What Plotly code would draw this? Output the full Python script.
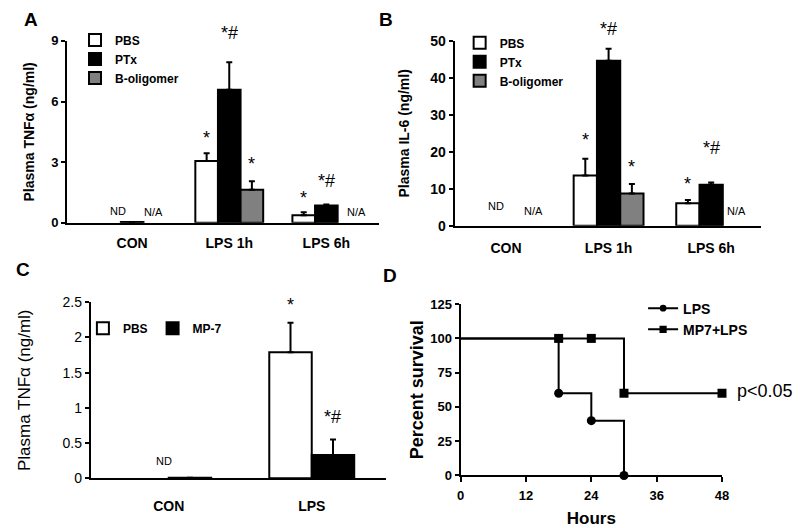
import plotly.graph_objects as go

# ---------------- data ----------------
cats_ab = ["CON", "LPS 1h", "LPS 6h"]
tnf_pbs = [None, 3.06, 0.38]
tnf_pbs_err = [0.0, 0.38, 0.14]
tnf_ptx = [0.04, 6.59, 0.86]
tnf_ptx_err = [0.0, 1.35, 0.05]
tnf_bolig = [None, 1.64, None]
tnf_bolig_err = [0.0, 0.42, 0.0]

il6_pbs = [None, 13.6, 6.1]
il6_pbs_err = [0.0, 4.5, 0.9]
il6_ptx = [None, 44.6, 11.1]
il6_ptx_err = [0.0, 3.3, 0.6]
il6_bolig = [None, 8.7, None]
il6_bolig_err = [0.0, 2.6, 0.0]

cats_c = ["CON", "LPS"]
mp_pbs = [None, 1.79]
mp_pbs_err = [0.0, 0.42]
mp_mp7 = [0.01, 0.33]
mp_mp7_err = [0.0, 0.22]

hours_lps = [0, 18, 24, 30]
surv_lps = [100, 60, 40, 0]
hours_mp7 = [0, 18, 24, 30, 48]
surv_mp7 = [100, 100, 100, 60, 60]

# significance marks (per group index) and their gap above the error bar (px)
sig_a = {"PBS": ["", "*", "*"], "PTx": ["", "*#", "*#"], "B": ["", "*", ""]}
gap_a = {"PBS": [0, 15, 14], "PTx": [0, 29, 23], "B": [0, 17, 0]}
sig_b = {"PBS": ["", "*", "*"], "PTx": ["", "*#", "*#"], "B": ["", "*", ""]}
gap_b = {"PBS": [0, 19, 16], "PTx": [0, 20, 35], "B": [0, 17, 0]}
sig_c = {"PBS": ["", "*"], "MP7": ["", "*#"]}
gap_c = {"PBS": [0, 18], "MP7": [0, 23]}

FONT = "Liberation Sans, Arial, sans-serif"
BLACK = "#000000"
GRAY = "#808080"

fig = go.Figure()

def add_bar(name, x, y, err, color, width, offset, xa, ya, legend, showleg=True):
    fig.add_trace(go.Bar(
        name=name, x=x, y=y, width=width, offset=offset,
        marker=dict(color=color, line=dict(color=BLACK, width=2)),
        error_y=dict(type="data", array=err, arrayminus=[0]*len(err), symmetric=False,
                     color=BLACK, thickness=2, width=3),
        xaxis=xa, yaxis=ya, legend=legend, showlegend=showleg,
    ))

# Panel A
wa = 0.233
add_bar("PBS", cats_ab, tnf_pbs, tnf_pbs_err, "white", wa, -1.5*wa, "x", "y", "legend")
add_bar("PTx", cats_ab, tnf_ptx, tnf_ptx_err, BLACK, wa, -0.5*wa, "x", "y", "legend")
add_bar("B-oligomer", cats_ab, tnf_bolig, tnf_bolig_err, GRAY, wa, 0.5*wa, "x", "y", "legend")

# Panel B
wb = 0.227
add_bar("PBS", cats_ab, il6_pbs, il6_pbs_err, "white", wb, -1.5*wb, "x2", "y2", "legend2")
add_bar("PTx", cats_ab, il6_ptx, il6_ptx_err, BLACK, wb, -0.5*wb, "x2", "y2", "legend2")
add_bar("B-oligomer", cats_ab, il6_bolig, il6_bolig_err, GRAY, wb, 0.5*wb, "x2", "y2", "legend2")

# Panel C
wc = 0.297
add_bar("PBS", cats_c, mp_pbs, mp_pbs_err, "white", wc, -wc, "x3", "y3", "legend3")
add_bar("MP-7", cats_c, mp_mp7, mp_mp7_err, BLACK, wc, 0, "x3", "y3", "legend3")

# Panel D
fig.add_trace(go.Scatter(
    name="LPS", x=hours_lps, y=surv_lps, mode="lines+markers", line_shape="hv",
    line=dict(color=BLACK, width=2),
    marker=dict(symbol="circle", size=[0] + [9]*(len(hours_lps)-1), color=BLACK,
                opacity=1, line=dict(width=0, color=BLACK)),
    xaxis="x4", yaxis="y4", legend="legend4", cliponaxis=False,
))
fig.add_trace(go.Scatter(
    name="MP7+LPS", x=hours_mp7, y=surv_mp7, mode="lines+markers", line_shape="hv",
    line=dict(color=BLACK, width=2),
    marker=dict(symbol="square", size=[0] + [9]*(len(hours_mp7)-1), color=BLACK,
                opacity=1, line=dict(width=0, color=BLACK)),
    xaxis="x4", yaxis="y4", legend="legend4", cliponaxis=False,
))

ann = []

def sig_annots(vals_list, errs_list, offsets, width, marks_list, gaps_list, xref, yref):
    for vals, errs, off, marks, gaps in zip(vals_list, errs_list, offsets, marks_list, gaps_list):
        for i, (v, e, m, g) in enumerate(zip(vals, errs, marks, gaps)):
            if not m or v is None:
                continue
            ann.append(dict(
                x=i + off + width/2, y=v + e, xref=xref, yref=yref,
                text=m, showarrow=False, yanchor="middle", xanchor="center",
                yshift=g,
                font=dict(family=FONT, size=18, color=BLACK),
            ))

sig_annots([tnf_pbs, tnf_ptx, tnf_bolig], [tnf_pbs_err, tnf_ptx_err, tnf_bolig_err],
           [-1.5*wa, -0.5*wa, 0.5*wa], wa, [sig_a["PBS"], sig_a["PTx"], sig_a["B"]],
           [gap_a["PBS"], gap_a["PTx"], gap_a["B"]], "x", "y")
sig_annots([il6_pbs, il6_ptx, il6_bolig], [il6_pbs_err, il6_ptx_err, il6_bolig_err],
           [-1.5*wb, -0.5*wb, 0.5*wb], wb, [sig_b["PBS"], sig_b["PTx"], sig_b["B"]],
           [gap_b["PBS"], gap_b["PTx"], gap_b["B"]], "x2", "y2")
sig_annots([mp_pbs, mp_mp7], [mp_pbs_err, mp_mp7_err],
           [-wc, 0], wc, [sig_c["PBS"], sig_c["MP7"]], [gap_c["PBS"], gap_c["MP7"]], "x3", "y3")

def small(text, x, y, xref, yref, ys):
    ann.append(dict(x=x, y=y, xref=xref, yref=yref, text=text, showarrow=False,
                    yanchor="bottom", xanchor="center", yshift=ys,
                    font=dict(family=FONT, size=11, color=BLACK)))

small("ND", -0.15, 0, "x", "y", 4)
small("N/A", 0.22, 0, "x", "y", 3)
small("N/A", 2.31, 0, "x", "y", 3)
small("ND", -0.1, 0, "x2", "y2", 12)
small("N/A", 0.27, 0, "x2", "y2", 7)
small("N/A", 2.25, 0, "x2", "y2", 7)
small("ND", -0.03, 0, "x3", "y3", 9)

ann.append(dict(x=48, y=60, xref="x4", yref="y4", text="p<0.05", showarrow=False,
                xanchor="left", yanchor="middle", xshift=13, yshift=2,
                font=dict(family=FONT, size=18, color=BLACK)))

for letter, px, py in [("A", 18, 12), ("B", 378, 12), ("C", 10, 270), ("D", 382, 276)]:
    ann.append(dict(x=px/800, y=1-py/528, xref="paper", yref="paper", text=f"<b>{letter}</b>",
                    showarrow=False, xanchor="left", yanchor="middle",
                    font=dict(family=FONT, size=19, color=BLACK)))

def cat_x(domain, rng, anchor, size=14, standoff=6):
    return dict(domain=domain, range=rng, anchor=anchor, type="category",
                showline=True, linecolor=BLACK, linewidth=2, ticks="", showgrid=False,
                zeroline=False, tickfont=dict(family=FONT, size=size, color=BLACK, weight="bold"),
                ticklabelstandoff=standoff)

def val_y(domain, rng, dtick, anchor, title, tsize, tbold=True, tickbold=True, tfsize=13, standoff=8):
    return dict(domain=domain, range=rng, dtick=dtick, anchor=anchor, showline=True,
                linecolor=BLACK, linewidth=2, ticks="outside", ticklen=4, tickwidth=2,
                tickcolor=BLACK, showgrid=False, zeroline=False,
                tickfont=dict(family=FONT, size=tfsize, color=BLACK, weight="bold" if tickbold else "normal"),
                title=dict(text=title, standoff=standoff,
                           font=dict(family=FONT, size=tsize, color=BLACK, weight="bold" if tbold else "normal")))

layout = dict(
    width=800, height=528, autosize=False,
    margin=dict(l=0, r=0, t=0, b=0),
    paper_bgcolor="white", plot_bgcolor="white",
    barmode="overlay",
    font=dict(family=FONT, color=BLACK),
    xaxis=cat_x([64/800, 380/800], [-0.67, 2.54], "y"),
    yaxis=val_y([1-222/528, 1-34/528], [0, 9], 3, "x", "Plasma TNFα (ng/ml)", 14, standoff=13),
    xaxis2=cat_x([457/800, 768/800], [-0.5, 2.49], "y2", standoff=8),
    yaxis2=val_y([1-225/528, 1-34/528], [0, 50], 10, "x2", "Plasma IL-6 (ng/ml)", 14, tfsize=14, standoff=17),
    xaxis3=cat_x([88/800, 387/800], [-0.545, 1.517], "y3", standoff=14),
    yaxis3=val_y([1-486/528, 1-304/528], [0, 2.5], 0.5, "x3", "Plasma TNFα (ng/ml)", 17,
                 tbold=False, tickbold=False, tfsize=14, standoff=28),
    xaxis4=dict(domain=[463/800, 728/800], range=[0, 48], anchor="y4", dtick=12,
                showline=True, linecolor=BLACK, linewidth=2, ticks="outside", ticklen=5,
                tickwidth=2, tickcolor=BLACK, showgrid=False, zeroline=False,
                tickfont=dict(family=FONT, size=13, color=BLACK, weight="bold"),
                ticklabelstandoff=2,
                title=dict(text="Hours", standoff=13,
                           font=dict(family=FONT, size=17, color=BLACK, weight="bold"))),
    yaxis4=val_y([1-483/528, 1-306/528], [0, 125], 25, "x4", "Percent survival", 18, standoff=2),
    annotations=ann,
    showlegend=True,
)

leg_common = dict(bgcolor="rgba(0,0,0,0)", borderwidth=0, itemwidth=30,
                  font=dict(family=FONT, size=12, color=BLACK, weight="bold"),
                  xanchor="left", yanchor="top",
                  itemclick=False, itemdoubleclick=False)
layout["legend"] = dict(leg_common, x=72/800, y=1-18/528)
layout["legend2"] = dict(leg_common, x=462/800, y=1-21/528)
layout["legend3"] = dict(leg_common, x=80/800, y=1-316/528, orientation="h")
layout["legend4"] = dict(leg_common, x=648/800, y=1-294/528,
                         font=dict(family=FONT, size=14, color=BLACK, weight="bold"))

fig.update_layout(**layout)

fig.write_html("out.html", config={"displayModeBar": False},
               post_script="document.body.style.margin='0';document.body.style.overflow='hidden';")
